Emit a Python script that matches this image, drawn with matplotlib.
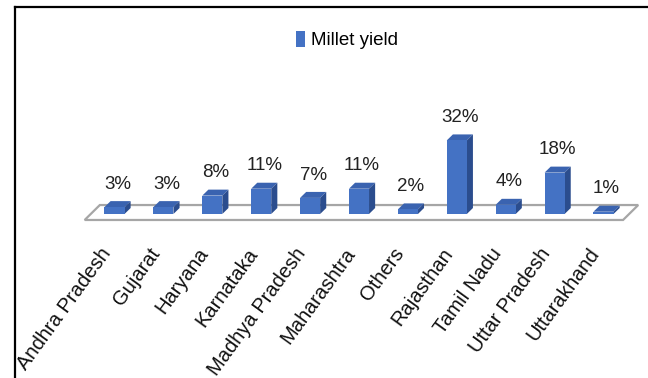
import matplotlib
matplotlib.use("Agg")
import matplotlib.pyplot as plt
from matplotlib.patches import Polygon
from matplotlib.lines import Line2D

plt.rcParams['font.family'] = ['Liberation Sans', 'DejaVu Sans']

# ---- Data
states = ["Andhra Pradesh", "Gujarat", "Haryana", "Karnataka", "Madhya Pradesh",
          "Maharashtra", "Others", "Rajasthan", "Tamil Nadu", "Uttar Pradesh",
          "Uttarakhand"]
yield_pct = [3, 3, 8, 11, 7, 11, 2, 32, 4, 18, 1]
series_name = "Millet yield"

# ---- Styles
c_front = "#4472C4"
c_top = "#3A63B0"
c_side = "#2B4D8E"
bar_w = 0.41
dx, dy = 0.125, 2.6          # depth of the bars (x units, %)
fdx, fdy = 0.31, 6.5         # depth of the floor

W, H = 648, 378
fig = plt.figure(figsize=(W / 100, H / 100), dpi=100)
# axes placed in pixel terms: x0 at px 114.5, 48.9 px per category, y0 at px 214, 2.3 px per %
ax = fig.add_axes([30 / W, (H - 236) / H, 1 - 30 / W, (236 - 20) / H])
ax.set_xlim((30 - 114.5) / 48.9, (648 - 114.5) / 48.9)
ax.set_ylim(-(236 - 214) / 2.3, (214 - 20) / 2.3)

n = len(states)
xs = list(range(n))

# ---- Floor
fl, fr, fy = -0.61, n - 1 + 0.40, -2.6
floor = Polygon([(fl, fy), (fr, fy), (fr + fdx, fy + fdy), (fl + fdx, fy + fdy)],
                closed=True, facecolor="white", edgecolor="#A6A6A6", lw=1.6,
                zorder=1, clip_on=False)
ax.add_patch(floor)

# ---- 3D bars
for x, v in zip(xs, yield_pct):
    l, r = x - bar_w / 2, x + bar_w / 2
    top = Polygon([(l, v), (r, v), (r + dx, v + dy), (l + dx, v + dy)],
                  closed=True, facecolor=c_top, edgecolor="none", zorder=3)
    side = Polygon([(r, 0), (r + dx, dy), (r + dx, v + dy), (r, v)],
                   closed=True, facecolor=c_side, edgecolor="none", zorder=3)
    ax.add_patch(top)
    ax.add_patch(side)
    ax.annotate(f"{v}%", (x + dx / 2, v + dy), xytext=(0, 6), textcoords="offset points",
                ha="center", va="bottom", fontsize=13.5, color="#222222")

bars = ax.bar(xs, yield_pct, width=bar_w, color=c_front, zorder=4, label=series_name)

ax.set_xticks(xs)
ax.set_xticklabels(states, rotation=54, ha="right", fontsize=14.5, color="#111111")
ax.tick_params(axis="x", length=0, pad=6)
ax.set_yticks([])
for s in ax.spines.values():
    s.set_visible(False)
ax.patch.set_alpha(0)

fig.legend(handles=[bars], labels=[series_name], loc="center",
           bbox_to_anchor=(347 / W, 1 - 40 / H), frameon=False, fontsize=13.5,
           handlelength=0.5, handleheight=0.95, handletextpad=0.3)

# ---- Outer frame (top and left edges)
fig.add_artist(Line2D([15 / W, 1], [1 - 7 / H, 1 - 7 / H], transform=fig.transFigure,
                      color="black", lw=1.6))
fig.add_artist(Line2D([15 / W, 15 / W], [0, 1 - 7 / H], transform=fig.transFigure,
                      color="black", lw=1.6))

fig.savefig("out.png", dpi=100)
